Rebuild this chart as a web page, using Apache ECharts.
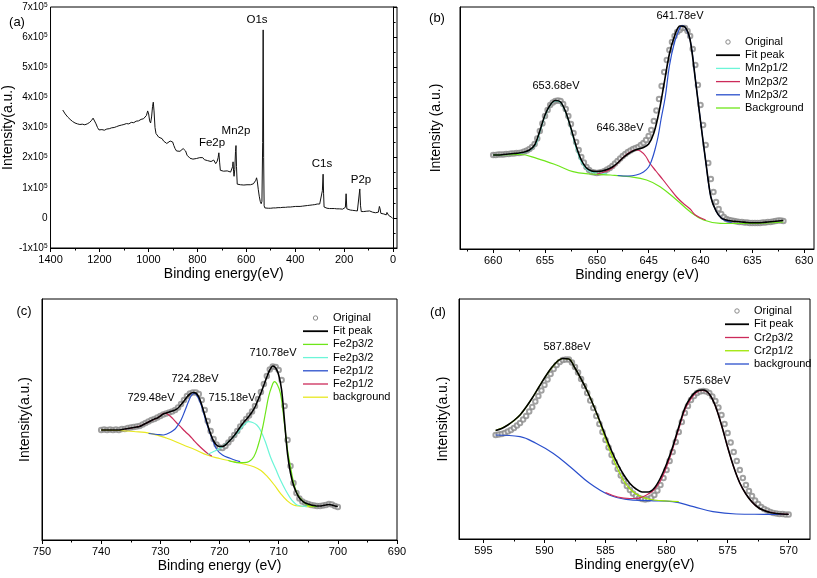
<!DOCTYPE html>
<html><head><meta charset="utf-8">
<script src="https://cdn.jsdelivr.net/npm/echarts@6/dist/echarts.min.js"></script>
<style>html,body{margin:0;padding:0;background:#fff}#c{width:817px;height:578px}</style>
</head><body><div id="c"></div>
<script>
// ---------------- DATA ----------------
// (a) survey spectrum: [binding energy eV, intensity x1e5]
const aSurvey = [[1350,3.58],[1340,3.45],[1330,3.35],[1320,3.27],[1310,3.20],[1300,3.15],[1290,3.12],[1280,3.10],[1270,3.11],[1260,3.09],[1250,3.12],[1240,3.17],[1232,3.24],[1226,3.31],[1220,3.26],[1214,3.12],[1208,3.00],[1202,2.92],[1196,2.90],[1190,2.93],[1180,2.91],[1170,2.95],[1160,2.96],[1150,2.99],[1140,3.00],[1130,3.03],[1120,3.06],[1110,3.08],[1100,3.10],[1090,3.13],[1080,3.12],[1070,3.17],[1060,3.16],[1050,3.21],[1040,3.22],[1030,3.27],[1020,3.29],[1012,3.35],[1008,3.40],[1003,3.55],[999,3.45],[995,3.22],[991,3.15],[987,3.35],[983,3.70],[980,3.84],[977,3.55],[973,3.00],[969,2.80],[965,2.75],[958,2.68],[951,2.62],[944,2.63],[938,2.55],[931,2.49],[925,2.47],[918,2.50],[911,2.55],[906,2.57],[901,2.52],[896,2.40],[891,2.30],[885,2.22],[878,2.20],[871,2.21],[864,2.25],[858,2.30],[853,2.33],[848,2.22],[842,2.08],[836,2.02],[830,1.98],[824,1.96],[818,1.95],[811,1.94],[804,1.97],[797,1.99],[790,2.00],[784,2.03],[778,2.00],[771,1.93],[764,1.92],[758,1.90],[751,1.88],[744,1.87],[738,1.88],[733,1.92],[729,1.98],[725,1.80],[722,1.75],[719,1.88],[715,2.00],[712,2.16],[709,1.85],[706,1.58],[700,1.56],[693,1.55],[686,1.54],[678,1.56],[671,1.53],[664,1.52],[659,1.55],[656,1.70],[654,1.86],[652,1.55],[650,1.38],[647,1.60],[644,2.20],[642,2.40],[640,1.70],[637,1.12],[632,1.09],[624,1.10],[617,1.10],[610,1.09],[603,1.10],[597,1.10],[590,1.11],[583,1.10],[577,1.12],[571,1.13],[565,1.15],[561,1.25],[558,1.33],[555,1.22],[551,0.95],[547,0.72],[543,0.55],[539,0.47],[536,0.55],[533,2.50],[531,6.24],[529,2.00],[527,0.40],[524,0.33],[518,0.32],[510,0.32],[500,0.32],[490,0.33],[480,0.33],[470,0.34],[460,0.34],[450,0.35],[440,0.35],[430,0.36],[420,0.36],[410,0.37],[402,0.39],[398,0.38],[390,0.37],[380,0.38],[370,0.39],[360,0.40],[350,0.41],[340,0.42],[330,0.43],[320,0.44],[310,0.46],[300,0.46],[292,0.48],[289,0.90],[286,1.45],[284,0.80],[282,0.36],[278,0.32],[270,0.32],[260,0.31],[250,0.31],[240,0.31],[230,0.30],[220,0.30],[212,0.32],[206,0.29],[200,0.27],[195,0.35],[192,0.80],[189,0.30],[185,0.26],[175,0.26],[165,0.25],[155,0.24],[146,0.23],[140,0.25],[136,0.96],[133,0.40],[130,0.21],[120,0.21],[110,0.22],[103,0.20],[96,0.23],[90,0.20],[84,0.19],[78,0.20],[72,0.17],[66,0.16],[60,0.19],[56,0.38],[53,0.30],[50,0.15],[44,0.14],[38,0.13],[33,0.12],[28,0.10],[25,0.18],[22,0.12],[18,0.08],[14,0.05],[10,0.04],[6,0.02],[2,-0.02],[0,-0.03]];
const aXTicks = [1400,1200,1000,800,600,400,200,0];
const aXMinor = [1300,1100,900,700,500,300,100];
const aPeakNames = ['O1s','Mn2p','Fe2p','C1s','P2p'];

// (b) Mn 2p (intensity in arbitrary units)
const bOrigEnergy = [660,659.75,659.5,659.25,659,658.75,658.5,658.25,658,657.75,
657.5,657.25,657,656.75,656.5,656.25,656,655.75,655.5,655.25,
655,654.75,654.5,654.25,654,653.75,653.5,653.25,653,652.75,
652.5,652.25,652,651.75,651.5,651.25,651,650.75,650.5,650.25,
650,649.75,649.5,649.25,649,648.75,648.5,648.25,648,647.75,
647.5,647.25,647,646.75,646.5,646.25,646,645.75,645.5,645.25,
645,644.75,644.5,644.25,644,643.75,643.5,643.25,643,642.75,
642.5,642.25,642,641.75,641.5,641.25,641,640.75,640.5,640.25,
640,639.75,639.5,639.25,639,638.75,638.5,638.25,638,637.75,
637.5,637.25,637,636.75,636.5,636.25,636,635.75,635.5,635.25,
635,634.75,634.5,634.25,634,633.75,633.5,633.25,633,632.75,
632.5,632.25,632];
const bOriginal = [94,94,94.5,94.5,94.5,95,95,95.5,95.5,96,
96,96.5,97.5,98.5,100,102,105,110.5,118,125.5,
133,139,144,146.5,148,148.5,148,145,140,133,
125,116,107,99,92,86.5,82,79,77,76.5,
76,76.5,77,78,79.5,81,83,85.5,88,90.5,
93,95,97,98.5,100,101,102,104,106,109,
113,119,128,138.5,150,163,177,189,199,207,
213,217,219,221,221,218,213,200,184,164,
144,124,104,86,70,57,47,40,35,32,
30,29,28.5,28,27.5,27,27,26.5,26.5,26,
26,26,26,26,26.5,26.5,27,27,27.5,28,
28.5,28.5,28];
const bFitEnergy = [660,659.5,659,658.5,658,657.5,657,656.5,656,655.5,655,654.5,654,653.5,653,652.5,652,651.5,651,650.5,650,649.5,649,648.5,648,647.5,647,646.5,646,645.5,645,644.5,644,643.5,643,642.5,642,641.5,641,640.5,640,639.5,639,638.5,638,637.5,637,636.5,636,635.5,635,634.5,634,633.5,633,632.5,632];
const bFit = [94,94,94.5,95,95.5,96,97,99,104,118,134,144,148.5,147,137,121,103,89,81,78,77.5,78,79.5,82,86,91,95,98,100,101.5,105,116,137,166,195,213,223,222,209,170,128,88,52,38,31,29,28,27.5,27,26.5,26.3,26.3,26.5,27,27.5,28,28.5];
const bMn2p12 = [[660,94],[657,96.5],[656,103],[655.5,117],[655,133],[654.5,143.5],[654,148],[653.5,146.5],[653,136.5],[652.5,120],[652,101],[651.5,87],[651,80],[650.5,77],[650,76],[649.5,75.5],[649,75]];
const bMn2p32a = [[650,75],[649.4,76.5],[648.5,81],[647.8,88],[647.2,94],[646.6,98],[646.2,99],[645.8,98],[645.3,93],[644.9,86],[644.3,78],[643.6,69],[643,61],[642.3,52],[641.6,45],[641,40],[640.5,34],[639.5,29]];
const bMn2p32b = [[648,73.5],[647,73],[646.2,74],[645.5,77],[645,82],[644.7,89],[644.4,99],[644.1,112],[643.8,130],[643.4,152],[643,183],[642.5,207],[642,221],[641.8,223.5],[641.5,222],[641,209],[640.5,170],[640,128],[639.5,88],[639,52],[638.5,38],[638,31],[637.5,28],[637,26.5]];
const bBackground = [[660,94],[657.4,94.5],[655.8,90.7],[653.9,84],[652.3,77.3],[650.7,75],[648.7,74],[646.8,72.3],[645.2,69],[643.9,62.3],[642.3,49],[641,37.3],[639.7,29],[638.1,25.7],[636.5,25.5],[634,25.8],[632,27]];
const bXTicks = [660,655,650,645,640,635,630];
const bXMinor = [662.5,657.5,652.5,647.5,642.5,637.5,632.5];
const bLegendNames = ['Original','Fit peak','Mn2p1/2','Mn2p3/2','Mn2p3/2','Background'];
const bPeakNames = ['641.78eV','653.68eV','646.38eV'];

// (c) Fe 2p
const cEnergy = [740,739.5,739,738.5,738,737.5,737,736.5,736,735.5,735,734.5,734,733.5,733,732.5,732,731.5,731,730.5,730,729.5,729,728.5,728,727.5,727,726.5,726,725.5,725,724.5,724,723.5,723,722.5,722,721.5,721,720.5,720,719.5,719,718.5,718,717.5,717,716.5,716,715.5,715,714.5,714,713.5,713,712.5,712,711.5,711,710.5,710,709.5,709,708.5,708,707.5,707,706.5,706,705.5,705,704.5,704,703.5,703,702.5,702,701.5,701,700.5,700];
const cOriginal = [110,110.5,110,110.5,110,110.5,110,111,111,112,112.5,113,113.5,114,115.5,117,118.5,120,121,122.5,124,125.5,126.5,127.5,128.5,130,132.5,136,140,144,146.5,147.5,147.5,146,140,130,119,109,101,95.5,92.5,92,94,97.5,101,105,109,113.5,117.5,121,124.5,128.5,134,141,148,156,164,170.5,173.5,173,170,160,134,100,74,57,47,41.5,38.5,37,36,35,34.5,34,34,34.5,35,36,35.5,34,33];
const cFit = [110,110,110,110,110,110,110,110.5,111,111.5,112,112.5,113,113.5,115,116.5,118,119.5,121,122,124,126,127,128,129,130,132,135.5,139,143,146,147.5,147,143,135,125,115,106,99,95,93.5,93.5,95,98,101,104.5,108.5,113,117,120.5,124,128,133,140,147,155,163,170,174,172,165,150,118,86,67,55,47.5,42,39,37,36,35,34.5,34,34,34.5,35,35.5,35,34,33.5];
const cFe2p32a = [[718.5,79.5],[717.6,78],[716.7,77.3],[715.9,77.3],[715,78.5],[714.2,83.3],[713.5,94],[712.8,110],[712.2,128],[711.7,143.3],[711.2,153],[710.7,158.3],[710.2,155],[709.7,146.7],[709.3,130],[708.9,110],[708.5,90],[708,73.3],[707.5,58],[706.9,46.7],[706,39.5],[705.2,35],[704.3,33.8],[703.5,33.3]];
const cFe2p32b = [[722,85.5],[721.6,86.7],[720.8,89],[719.9,91.7],[718.8,96.5],[717.6,103.3],[716.6,110],[715.8,115.5],[715.1,118.3],[714.4,117.5],[713.7,115],[713.1,110],[712.3,99],[711.4,83.3],[710.5,71],[709.7,60],[708.8,49.5],[708,41.7],[707.4,37.5],[706.9,35],[706,33.8],[705.2,33.3]];
const cFe2p12a = [[732,106.5],[730.5,105.5],[729.5,105],[728.9,106],[728.2,108],[727.5,111],[727.2,113.3],[726.5,120],[725.8,130],[725.2,139],[724.7,145],[724.2,146.7],[723.6,142],[723,133.3],[722.4,121],[721.8,110],[721.1,99],[720.4,90],[719.5,85],[718.2,81.7],[717.2,79.5],[716.5,78.3]];
const cFe2p12b = [[736,111],[734,113],[733,115],[732.3,117],[731.5,119.5],[730.6,121.7],[730,124],[729.4,126.7],[728.8,126],[728,122],[727.3,117.5],[726.6,113.3],[725.8,108.5],[725,104],[724.4,100],[723.6,95],[722.7,90],[722,86.5],[721.3,84]];
const cBackground = [[740,110],[737,109.5],[734.5,108.5],[731.7,106.7],[729,102],[726.1,95],[724,90],[722.1,85],[720,81.5],[717.6,78.3],[715.9,76],[714.2,73.3],[713,69.5],[711.9,63.3],[710.8,55.5],[709.7,46.7],[708.6,39.5],[707.5,35],[706.3,33.8],[705.2,33.3],[704,33.3]];
const cXTicks = [750,740,730,720,710,700,690];
const cXMinor = [745,735,725,715,705,695];
const cLegendNames = ['Original','Fit peak','Fe2p3/2','Fe2p3/2','Fe2p1/2','Fe2p1/2','background'];
const cPeakNames = ['710.78eV','724.28eV','729.48eV','715.18eV'];

// (d) Cr 2p
const dOrigEnergy = [594,593.75,593.5,593.25,593,592.75,592.5,592.25,592,591.75,
591.5,591.25,591,590.75,590.5,590.25,590,589.75,589.5,589.25,
589,588.75,588.5,588.25,588,587.75,587.5,587.25,587,586.75,
586.5,586.25,586,585.75,585.5,585.25,585,584.75,584.5,584.25,
584,583.75,583.5,583.25,583,582.75,582.5,582.25,582,581.75,
581.5,581.25,581,580.75,580.5,580.25,580,579.75,579.5,579.25,
579,578.75,578.5,578.25,578,577.75,577.5,577.25,577,576.75,
576.5,576.25,576,575.75,575.5,575.25,575,574.75,574.5,574.25,
574,573.75,573.5,573.25,573,572.75,572.5,572.25,572,571.75,
571.5,571.25,571,570.75,570.5,570.25,570];
const dOriginal = [104,104.5,105,106,107.5,109,111,113.5,116,119.5,
123,127.5,132,137.5,143,148.5,154,159.5,165,170,
174,177,179,179.5,179.5,176.5,172,166.5,160,153,
146,138.5,131,123,115,107,99,91.5,84,77,
70,63.5,58,53,49,45.5,43,41,40,39.5,
40,41.5,44,48.5,54,61,69,78,87,97,
107,117,126,133,139,143,146,147.5,148,147.5,
146,142.5,138,131.5,124,115,106,96.5,87,78,
69,61,54,48,43,38.5,35,32,30,28.5,
27,26,25.5,25,25,24.5,24.5];
const dFitEnergy = [594,593.5,593,592.5,592,591.5,591,590.5,590,589.5,589,588.5,588,587.5,587,586.5,586,585.5,585,584.5,584,583.5,583,582.5,582,581.5,581,580.5,580,579.5,579,578.5,578,577.5,577,576.5,576,575.5,575,574.5,574,573.5,573,572.5,572,571.5,571,570.5,570];
const dFit = [108.5,110.5,114,118.5,124,132,141,151,161,170,177,180.5,180,171,160,148,134,119,103,88,75,64,55.5,50,47,47,51,61,75,92,112,131,142,148,149,145,133,114,92,72,56,45,37,31.5,28.5,26.5,25.5,25,24.7];
const dCr2p32 = [[585,46.5],[584,42],[583,40.5],[582.5,40.5],[582,42],[581.5,45],[581,49.5],[580.5,58],[580,72],[579.5,90],[579,110],[578.5,129],[578,140],[577.5,147],[577,148.5],[576.5,145],[576,133],[575.5,114],[575,92],[574.5,72],[574,56],[573.5,45],[573,37],[572.5,31.5],[572,28.5],[571,25.5],[570,24.6]];
const dCr2p12 = [[594,108.5],[593,114],[592,124],[591,141],[590,161],[589,177],[588.5,180.5],[588,180],[587.5,171],[587,160],[586.5,148],[586,134],[585.5,118],[585,100],[584.5,84],[584,70],[583.5,58],[583,50],[582.5,45],[582,42],[581.5,40],[581,39],[580,38],[579,37.3]];
const dBackground = [[594,104],[592,102.3],[590.7,95.7],[589.3,85.7],[587.9,72.3],[586.3,55.7],[584.7,44],[583.3,39.7],[581.4,38.3],[579.5,37.3],[577.8,32.3],[576.2,27.3],[574.3,25],[572,24.7],[570,24.5]];
const dXTicks = [595,590,585,580,575,570];
const dXMinor = [592.5,587.5,582.5,577.5,572.5];
const dLegendNames = ['Original','Fit peak','Cr2p3/2','Cr2p1/2','background'];
const dPeakNames = ['587.88eV','575.68eV'];

// ---------------- STYLE / LAYOUT ----------------
const FONT = '"Liberation Sans", Arial, sans-serif';
const COL = {orig:'#8a8a8a', fit:'#000000', cyan:'#6cf5d8', red:'#cc2a5a', blue:'#2a4fcc', green:'#6ee61a', yellow:'#e8e820', lime:'#9ee600'};
const grids = [
  {left:43, top:7, width:354, height:241},
  {left:460, top:7, width:354, height:242},
  {left:42, top:299, width:355, height:241},
  {left:459, top:299, width:351, height:240}
];
const xRanges = [[-16,1400],[629.05,663.2],[690,750],[568.25,597.0]];
const yRanges = [[-1,7],[0,242],[0,241],[0,240]];
const xNames = ['Binding energy(eV)','Binding energy (eV)','Binding energy (eV)','Binding energy(eV)'];
const yNames = ['Intensity(a.u.)','Intensity (a.u.)','Intensity(a.u.)','Intensity(a.u.)'];
const yNameGaps = [27,17,10,9];
const majors = [aXTicks,bXTicks,cXTicks,dXTicks];
const minors = [aXMinor,bXMinor,cXMinor,dXMinor];

const zip = (E, I) => E.map((e, i) => [e, I[i]]);

const xAxes = [], yAxes = [];
for (let g = 0; g < 4; g++) {
  xAxes.push({
    type:'value', gridIndex:g, inverse:true, min:xRanges[g][0], max:xRanges[g][1], position:'bottom',
    axisLine:{show:true, onZero:false, lineStyle:{color:'#000', width:1}},
    axisTick:{show:true, customValues:majors[g], length:4, lineStyle:{color:'#000'}},
    axisLabel:{show:true, customValues:majors[g], margin:6, fontSize:11, color:'#000', fontFamily:FONT,
      formatter: v => String(v)},
    splitLine:{show:false},
    name:xNames[g], nameLocation:'middle', nameGap:19,
    nameTextStyle:{fontSize:14, color:'#000', fontFamily:FONT}
  });
}
for (let g = 0; g < 4; g++) {
  xAxes.push({
    type:'value', gridIndex:g, inverse:true, min:xRanges[g][0], max:xRanges[g][1], position:'bottom',
    axisLine:{show:false, onZero:false},
    axisTick:{show:true, customValues:minors[g], length:2.5, lineStyle:{color:'#000'}},
    axisLabel:{show:false}, splitLine:{show:false}
  });
}
yAxes.push({
  type:'value', gridIndex:0, min:-1, max:7, interval:1,
  axisLine:{show:true, lineStyle:{color:'#000'}},
  axisTick:{show:true, inside:true, length:4, lineStyle:{color:'#000'}},
  minorTick:{show:true, splitNumber:2, length:2.5, lineStyle:{color:'#000'}},
  axisLabel:{margin:3, color:'#000',
    formatter: v => v === 0 ? '{m|0}' : '{m|' + v + 'x10}{s|5}',
    rich:{m:{fontSize:10, fontFamily:FONT, color:'#000'}, s:{fontSize:6.5, fontFamily:FONT, color:'#000', verticalAlign:'top'}}},
  splitLine:{show:false}, minorSplitLine:{show:false},
  name:yNames[0], nameLocation:'middle', nameGap:yNameGaps[0],
  nameTextStyle:{fontSize:14, color:'#000', fontFamily:FONT}
});
for (let g = 1; g < 4; g++) {
  yAxes.push({
    type:'value', gridIndex:g, min:yRanges[g][0], max:yRanges[g][1],
    axisLine:{show:true, lineStyle:{color:'#000'}}, axisTick:{show:false}, axisLabel:{show:false},
    splitLine:{show:false},
    name:yNames[g], nameLocation:'middle', nameGap:yNameGaps[g],
    nameTextStyle:{fontSize:14, color:'#000', fontFamily:FONT}
  });
}

function lineS(g, name, data, color, width, smooth) {
  return {type:'line', name, xAxisIndex:g, yAxisIndex:g, data, symbol:'none', showSymbol:false,
    smooth: smooth, lineStyle:{color, width}, itemStyle:{color}, silent:true, animation:false};
}
function origS(g, data) {
  return {type:'scatter', name:'Original', xAxisIndex:g, yAxisIndex:g, data, symbol:'emptyCircle', symbolSize:4.5,
    itemStyle:{color:COL.orig, borderWidth:1}, silent:true, animation:false};
}

const series = [
  lineS(0, 'Survey', aSurvey, '#111', 1, false),

  origS(1, zip(bOrigEnergy, bOriginal)),
  lineS(1, 'Mn2p1/2', bMn2p12, COL.cyan, 1.2, 0.4),
  lineS(1, 'Background', bBackground, COL.green, 1.2, 0.4),
  lineS(1, 'Mn2p3/2', bMn2p32a, COL.red, 1.2, 0.4),
  lineS(1, 'Mn2p3/2 ', bMn2p32b, COL.blue, 1.2, 0.4),
  lineS(1, 'Fit peak', zip(bFitEnergy, bFit), COL.fit, 1.6, 0.3),

  origS(2, zip(cEnergy, cOriginal)),
  lineS(2, 'background', cBackground, COL.yellow, 1.2, 0.4),
  lineS(2, 'Fe2p1/2 ', cFe2p12b, COL.red, 1.2, 0.4),
  lineS(2, 'Fe2p1/2', cFe2p12a, COL.blue, 1.2, 0.4),
  lineS(2, 'Fe2p3/2 ', cFe2p32b, COL.cyan, 1.2, 0.4),
  lineS(2, 'Fe2p3/2', cFe2p32a, COL.green, 1.2, 0.4),
  lineS(2, 'Fit peak', zip(cEnergy, cFit), COL.fit, 1.6, 0.3),

  origS(3, zip(dOrigEnergy, dOriginal)),
  lineS(3, 'background', dBackground, COL.blue, 1.2, 0.4),
  lineS(3, 'Cr2p1/2', dCr2p12, COL.lime, 1.2, 0.4),
  lineS(3, 'Cr2p3/2', dCr2p32, COL.red, 1.2, 0.4),
  lineS(3, 'Fit peak', zip(dFitEnergy, dFit), COL.fit, 1.6, 0.3)
];

// ---------------- TEXT / LEGENDS (graphic) ----------------
const graphic = [];
function txt(x, y, text, size, align) {
  graphic.push({type:'text', x, y, silent:true, z:10,
    style:{text, fill:'#000', font: size + 'px ' + FONT, align: align || 'center', verticalAlign:'middle',
      textAlign: align || 'center', textVerticalAlign:'middle'}});
}
txt(17, 22, '(a)', 13); txt(437, 18, '(b)', 13); txt(24, 311, '(c)', 13); txt(438, 312, '(d)', 13);
[[257,20],[236,131],[212,143],[322,164],[361,180]].forEach((p, i) => txt(p[0], p[1], aPeakNames[i], 11.5));
[[680,16],[556,86],[620,128]].forEach((p, i) => txt(p[0], p[1], bPeakNames[i], 11));
[[273,353],[195,379],[151,398],[232,398]].forEach((p, i) => txt(p[0], p[1], cPeakNames[i], 11));
[[567,347],[707,381]].forEach((p, i) => txt(p[0], p[1], dPeakNames[i], 11));

function legend(x0, y0, dy, w, names, colors) {
  names.forEach((n, i) => {
    const y = y0 + dy * i;
    if (colors[i] === 'circle') {
      graphic.push({type:'circle', silent:true, z:10, shape:{cx:x0 + w / 2, cy:y, r:2.2},
        style:{fill:'#fff', stroke:COL.orig, lineWidth:1}});
    } else {
      graphic.push({type:'line', silent:true, z:10, shape:{x1:x0, y1:y, x2:x0 + w, y2:y},
        style:{stroke:colors[i], lineWidth: i === 1 ? 1.8 : 1.3}});
    }
    txt(x0 + w + 5, y, n, 11, 'left');
  });
}
legend(716, 42, 13.2, 24, bLegendNames, ['circle', COL.fit, COL.cyan, COL.red, COL.blue, COL.green]);
legend(303, 318, 13.2, 25, cLegendNames, ['circle', COL.fit, COL.green, COL.cyan, COL.blue, COL.red, COL.yellow]);
legend(725, 311, 13.25, 24, dLegendNames, ['circle', COL.fit, COL.red, COL.lime, COL.blue]);

const chart = echarts.init(document.getElementById('c'), null, {renderer:'canvas', width:817, height:578});
chart.setOption({
  animation:false,
  backgroundColor:'#fff',
  grid: grids.map(g => Object.assign({show:true, borderColor:'#000', borderWidth:1, backgroundColor:'transparent', containLabel:false}, g)),
  xAxis: xAxes,
  yAxis: yAxes,
  series,
  graphic
});
</script></body></html>
